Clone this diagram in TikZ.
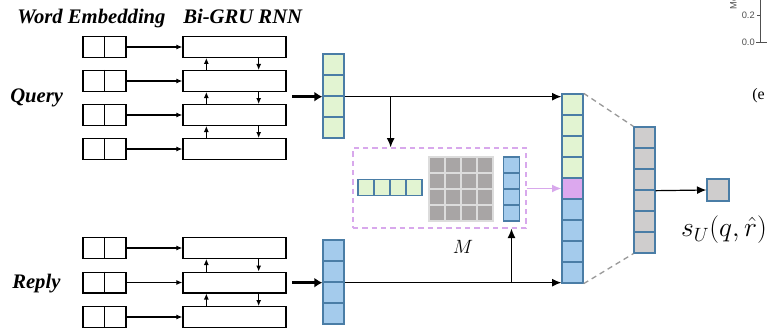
\documentclass[tikz,border=0pt]{standalone}
\usepackage{fontspec}
\setmainfont{Liberation Serif}
\setsansfont{Liberation Sans}
\usetikzlibrary{arrows.meta, positioning, calc}
\definecolor{cellgreen}{HTML}{E2F4D2}
\definecolor{cellblue}{HTML}{A4CBEC}
\definecolor{cellpink}{HTML}{DCA8EE}
\definecolor{cellgrey}{HTML}{CFCDCD}
\definecolor{matgrey}{HTML}{A8A5A5}
\definecolor{matline}{HTML}{DCDCDC}
\definecolor{cellrim}{HTML}{4A7DA6}
\definecolor{attdash}{HTML}{D8A8EC}
\definecolor{fadegrey}{HTML}{9A9A9A}
\definecolor{fragink}{HTML}{505050}
% one column of cells: name, x, top y, fills
\newcommand{\vcells}[4]{%
  \foreach \fc [count=\k] in {#4}{%
    \node[cellbox, fill=\fc] (#1-\k) at (#2,#3+21*\k-10.5) {};}}

\begin{document}
\begin{tikzpicture}[x=0.75pt, y=-0.75pt,
  embbox/.style={draw, line width=1pt, minimum width=32.25pt,
                 minimum height=15.5pt, inner sep=0pt},
  grubox/.style={embbox, minimum width=77.25pt},
  cellbox/.style={draw=cellrim, line width=1pt, minimum size=15.75pt,
                  inner sep=0pt},
  smallcell/.style={cellbox, minimum size=12pt},
  matcell/.style={draw=matline, fill=matgrey, line width=1.1pt,
                  minimum size=12pt, inner sep=0pt},
  title/.style={font=\fontsize{15.5}{18}\selectfont\bfseries\itshape,
                inner sep=0pt},
  small/.style={line width=0.8pt, -{Latex[length=4.5pt, width=3.8pt]}},
  link/.style={line width=0.9pt, -{Latex[length=7pt, width=6pt]}},
  thicklink/.style={line width=2.6pt, -{Latex[length=6pt, width=7.5pt]}},
  pinklink/.style={attdash, line width=1pt, -{Latex[length=7pt, width=6pt]}},
  fadedash/.style={fadegrey, line width=1pt, dash pattern=on 4pt off 3pt},
  frag/.style={text=fragink, font=\sffamily\fontsize{7}{8}\selectfont,
               inner sep=0pt}]
  \useasboundingbox (0,0) rectangle (767,328);

  % titles and side labels
  \node[title, anchor=base west] (temb) at (17,24) {Word Embedding};
  \node[title, anchor=base west] (tgru) at (183,24) {Bi-GRU RNN};
  \node[title, anchor=base west] (lq) at (10,103) {Query};
  \node[title, anchor=base west] (lr) at (12,288) {Reply};

  % query encoder
  \foreach \i in {1,...,4}{%
    \node[embbox] (qe\i) at (104.5,13+34*\i) {};
    \node[grubox] (qg\i) at (234.5,13+34*\i) {};
    \draw[line width=1pt] (qe\i.north) -- (qe\i.south);
    \draw[small] (qe\i) -- (qg\i);}
  \foreach \i/\j in {1/2, 2/3, 3/4}{%
    \draw[small] ($(qg\j.north west)+(24,0)$) -- ($(qg\i.south west)+(24,0)$);
    \draw[small] ($(qg\i.south east)+(-28,0)$) -- ($(qg\j.north east)+(-28,0)$);}

  % reply encoder
  \foreach \i in {1,2,3}{%
    \node[embbox] (re\i) at (104.5,213.5+34.5*\i) {};
    \node[grubox] (rg\i) at (234.5,213.5+34.5*\i) {};
    \draw[line width=1pt] (re\i.north) -- (re\i.south);
    \draw[small] (re\i) -- (rg\i);}
  \foreach \i/\j in {1/2, 2/3}{%
    \draw[small] ($(rg\j.north west)+(24,0)$) -- ($(rg\i.south west)+(24,0)$);
    \draw[small] ($(rg\i.south east)+(-28,0)$) -- ($(rg\j.north east)+(-28,0)$);}

  % sentence vectors
  \vcells{qv}{333.5}{54}{cellgreen,cellgreen,cellgreen,cellgreen}
  \vcells{rv}{333.5}{240}{cellblue,cellblue,cellblue,cellblue}
  \draw[thicklink] ($(qv-2.south west)+(-30,0)$) -- (qv-2.south west);
  \draw[thicklink] ($(rv-2.south west)+(-30,0)$) -- (rv-2.south west);

  % matching block
  \node[draw=attdash, line width=1pt, dash pattern=on 4pt off 3pt,
        minimum width=129.75pt, minimum height=60pt] (att) at (439.5,188) {};
  \foreach \k in {1,...,4}{%
    \node[smallcell, fill=cellgreen] (hv-\k) at (350+16*\k,187.5) {};
    \node[smallcell, fill=cellblue] (bv-\k) at (511.5,149+16*\k) {};}
  \foreach \r in {1,...,4}{%
    \foreach \c in {1,...,4}{%
      \node[matcell] (m\r\c) at (421+16*\c,149+16*\r) {};}}
  \node[inner sep=0pt, font=\fontsize{15.5}{17}\selectfont] (mlab)
    at (463,247) {$M$};

  % joint vector and output
  \vcells{bg}{572.5}{94}{cellgreen,cellgreen,cellgreen,cellgreen,cellpink,
                         cellblue,cellblue,cellblue,cellblue}
  \vcells{gv}{644.5}{127}{cellgrey,cellgrey,cellgrey,cellgrey,cellgrey,cellgrey}
  \node[cellbox, fill=cellgrey, minimum size=16.5pt] (sbox) at (718,190) {};
  \node[inner sep=0pt, font=\fontsize{19.5}{22}\selectfont] (score)
    at (724,230) {$s_U(q,\hat{r})$};

  \draw[link] (qv-2.south east) -- (qv-2.south east -| bg-1.west);
  \draw[link] (hv-2.east |- qv-2.south east) -- (hv-2.east |- att.north);
  \draw[link] (rv-2.south east) -- (rv-2.south east -| bg-9.west);
  \draw[link] (bv-4 |- rv-2.south east) -- (bv-4 |- att.south);
  \draw[pinklink] (att.east |- bg-5) -- (bg-5.west);
  \draw[fadedash] (bg-1.north east) -- (gv-1.north west);
  \draw[fadedash] (bg-9.south east) -- (gv-6.south west);
  \draw[link] (gv-3.south east) -- (sbox.west);

  % cut edge of the next figure
  \node[frag, rotate=90, anchor=south] (fmo) at (737,3) {Mo};
  \node[frag, anchor=east] (f02) at (755,15) {0.2};
  \node[frag, anchor=east] (f00) at (755,42) {0.0};
  \draw[fragink, line width=0.6pt] (760,0) -- (760,42)
    (757,15) -- (760,15) (756,42) -- (767,42);
  \node[anchor=west, inner sep=0pt, font=\fontsize{12}{14}\selectfont]
    (fe) at (752,96) {(e};
\end{tikzpicture}
\end{document}
